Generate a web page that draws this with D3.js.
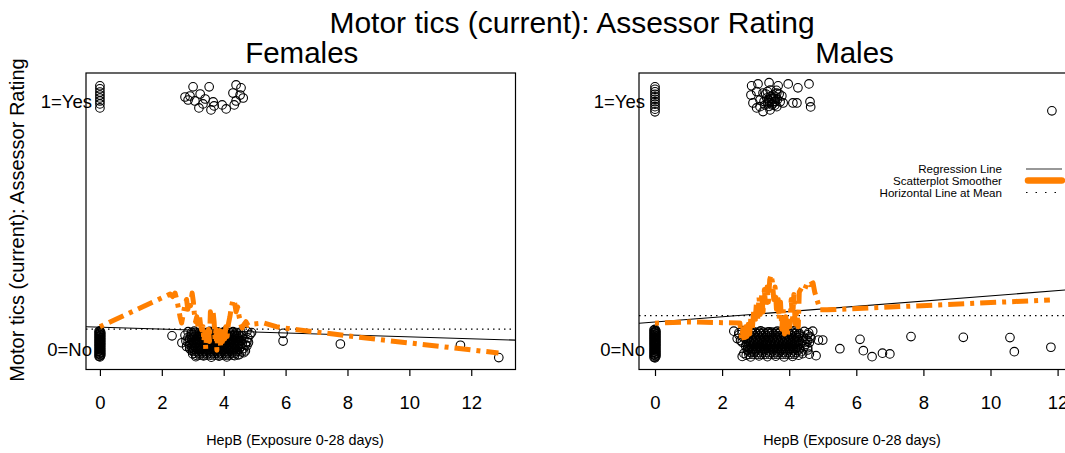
<!DOCTYPE html>
<html><head><meta charset="utf-8">
<script src="https://cdn.jsdelivr.net/npm/d3@7/dist/d3.min.js"></script>
<style>body{margin:0;background:#fff;} text{font-family:"Liberation Sans",Arial,sans-serif;}</style>
</head><body><svg id="c" width="1065" height="453"></svg>
<script>
// ---------- data ----------
const mainTitle = "Motor tics (current): Assessor Rating";
const panelTitles = ["Females", "Males"];
const xLabel = "HepB (Exposure 0-28 days)";
const yLabel = "Motor tics (current): Assessor Rating";
const xTicks = [0, 2, 4, 6, 8, 10, 12];
const yTickValues = [0, 1];
const yTickLabels = ["0=No", "1=Yes"];
const legendLabels = ["Regression Line", "Scatterplot Smoother", "Horizontal Line at Mean"];

const femalePoints = [
 // exposure 0, yes
 [0,1.063],[0,1.051],[0,1.038],[0,1.026],[0,1.014],[0,1.002],[0,0.99],[0,0.974],
 // exposure 0, no
 [0,0.073],[0,0.068],[0,0.063],[0,0.058],[0,0.053],[0,0.048],[0,0.043],[0,0.038],[0,0.033],[0,0.028],[0,0.023],
 [0,0.018],[0,0.013],[0,0.008],[0,0.003],[0,-0.002],[0,-0.007],[0,-0.012],[0,-0.017],[0,-0.022],[0,-0.027],[0,-0.032],
 [-0.03,0.0705],[0.03,0.0655],[-0.03,0.0605],[0.03,0.0555],[-0.03,0.0505],[0.03,0.0455],[-0.03,0.0405],[0.03,0.0355],
 [-0.03,0.0305],[0.03,0.0255],[-0.03,0.0205],[0.03,0.0155],[-0.03,0.0105],[0.03,0.0055],[-0.03,0.0005],[0.03,-0.0045],
 [-0.03,-0.0095],[0.03,-0.0145],[-0.03,-0.0195],[0.03,-0.0245],[-0.03,-0.0295],
 // cluster, yes
 [3.01,1.059],[3.53,1.059],[4.40,1.067],[2.91,1.022],[3.24,1.030],[3.07,1.002],[3.33,0.990],[3.20,0.974],
 [3.66,0.998],[3.59,0.966],[3.69,0.982],[3.95,0.986],[4.08,0.970],[4.34,0.986],[4.53,1.026],[4.30,1.034],
 [4.63,1.014],[4.40,1.002],[4.56,1.055],[2.75,1.018],[2.85,1.006],[3.40,1.010],
 // cluster, no (edges)
 [2.85,0.07],[3.05,0.072],[3.3,0.068],[3.55,0.071],[3.8,0.069],[4.05,0.072],[4.3,0.07],[4.55,0.068],[4.75,0.071],[4.9,0.066],
 [2.75,0.055],[2.95,0.058],[3.15,0.052],[3.4,0.056],[3.6,0.054],[3.85,0.057],[4.1,0.053],[4.35,0.056],[4.6,0.052],[4.85,0.058],
 [2.9,0.04],[4.45,0.043],[4.65,0.04],[2.65,0.025],[2.85,0.028],[4.6,0.022],[4.8,0.026],
 [2.8,0.01],[4.55,0.009],[4.75,0.013],[2.95,-0.005],[4.5,-0.001],[4.7,-0.008],
 [3.0,-0.02],[4.5,-0.023],[4.65,-0.015],[3.1,-0.031],[3.35,-0.028],[3.6,-0.033],[3.85,-0.029],[4.1,-0.032],[4.35,-0.027],
 [2.85,0.047],[4.55,0.048],[4.78,0.045],[2.78,0.032],[4.58,0.034],[4.75,0.03],[2.9,0.017],[4.5,0.018],[4.7,0.016],
 [2.9,0.002],[4.62,0.001],[4.58,-0.012],[4.45,-0.024],
 // outliers
 [2.33,0.053],[5.92,0.063],[5.92,0.032],[7.77,0.02],[11.65,0.015],[12.89,-0.035]
];
// dense core of the no-cluster: [y, x values]
const femaleCoreRows = [
 [0.066, [2.96,3.08,3.21,3.33,3.44,3.57,3.69,3.8,3.93,4.05,4.18,4.29,4.41]],
 [0.059, [3.02,3.14,3.26,3.39,3.5,3.62,3.75,3.87,3.98,4.11,4.23,4.35,4.48]],
 [0.051, [2.94,3.07,3.2,3.31,3.45,3.56,3.68,3.81,3.92,4.04,4.17,4.3,4.42]],
 [0.044, [3.01,3.13,3.27,3.38,3.51,3.63,3.74,3.86,3.99,4.1,4.24,4.36,4.47]],
 [0.036, [2.97,3.09,3.22,3.34,3.46,3.58,3.7,3.82,3.95,4.06,4.19,4.31,4.43]],
 [0.029, [3.03,3.15,3.28,3.4,3.52,3.64,3.76,3.88,4.0,4.12,4.25,4.37,4.49]],
 [0.021, [2.95,3.08,3.2,3.33,3.45,3.57,3.69,3.81,3.93,4.05,4.18,4.3,4.41]],
 [0.014, [3.02,3.14,3.26,3.39,3.51,3.63,3.75,3.87,3.99,4.11,4.24,4.35,4.46]],
 [0.006, [2.98,3.1,3.22,3.34,3.46,3.58,3.7,3.83,3.94,4.07,4.19,4.31,4.42]],
 [-0.001, [3.04,3.16,3.28,3.41,3.53,3.65,3.77,3.89,4.01,4.13,4.25,4.37]],
 [-0.009, [3.0,3.12,3.24,3.36,3.48,3.6,3.72,3.84,3.96,4.08,4.2,4.32,4.44]],
 [-0.017, [3.06,3.18,3.3,3.42,3.54,3.66,3.78,3.9,4.02,4.14,4.26,4.38]],
 [-0.025, [3.1,3.22,3.34,3.46,3.58,3.7,3.82,3.94,4.06,4.18,4.3]]
];

const malePoints = [
 [0,1.059],[0,1.049],[0,1.039],[0,1.029],[0,1.019],[0,1.009],[0,0.999],[0,0.989],[0,0.979],[0,0.969],[0,0.958],
 [0,0.079],[0,0.074],[0,0.069],[0,0.064],[0,0.059],[0,0.054],[0,0.049],[0,0.044],[0,0.039],[0,0.034],[0,0.029],[0,0.024],[0,0.019],
 [0,0.014],[0,0.009],[0,0.004],[0,-0.001],[0,-0.006],[0,-0.011],[0,-0.016],[0,-0.021],[0,-0.026],[0,-0.031],[0,-0.036],
 [-0.03,0.0765],[0.03,0.0715],[-0.03,0.0665],[0.03,0.0615],[-0.03,0.0565],[0.03,0.0515],[-0.03,0.0465],[0.03,0.0415],
 [-0.03,0.0365],[0.03,0.0315],[-0.03,0.0265],[0.03,0.0215],[-0.03,0.0165],[0.03,0.0115],[-0.03,0.0065],[0.03,0.0015],
 [-0.03,-0.0035],[0.03,-0.0085],[-0.03,-0.0135],[0.03,-0.0185],[-0.03,-0.0235],[0.03,-0.0285],[-0.03,-0.0335],
 [2.88,1.063],[3.07,1.071],[3.40,1.076],[3.67,1.063],[3.97,1.071],[4.26,1.055],[4.59,1.071],[2.86,1.026],[3.03,1.040],
 [3.22,1.034],[3.43,1.046],[3.63,1.034],[3.78,1.022],[3.13,1.006],[3.33,1.014],[3.52,1.010],[3.73,0.999],[2.92,0.994],
 [3.03,0.974],[3.22,0.959],[3.43,0.966],[3.63,0.979],[3.82,0.994],[4.11,0.994],[4.23,0.994],[4.62,0.999],[4.64,0.978],
 [3.13,0.979],[3.37,0.994],[3.52,1.026],[3.48,0.986],[3.28,0.986],[3.58,0.999],
 [3.45,1.02],[3.55,1.0],[3.38,1.005],[3.6,1.018],[3.3,1.03],[3.5,0.99],[3.65,1.008],[3.42,0.995],[3.25,1.0],[3.7,1.03],
 [3.35,1.04],[3.47,1.012],[3.57,0.985],[3.4,0.98],[3.62,1.045],
 [11.83,0.962],
 [2.35,0.072],[2.6,0.074],[2.9,0.07],[3.15,0.073],[3.4,0.069],[3.65,0.072],[3.9,0.07],[4.15,0.074],[4.45,0.071],[4.7,0.072],
 [2.5,0.057],[2.75,0.055],[4.3,0.054],[4.55,0.057],[2.45,0.042],[2.7,0.04],[4.5,0.041],[4.65,0.044],
 [2.6,0.027],[4.35,0.024],[4.6,0.026],[2.7,0.012],[4.45,0.011],[2.75,-0.003],[4.55,-0.004],
 [2.65,-0.018],[4.4,-0.019],[4.6,-0.021],[2.6,-0.03],[2.85,-0.032],[3.1,-0.028],[3.35,-0.031],[3.6,-0.029],[3.85,-0.032],[4.1,-0.03],
 [2.5,0.065],[4.3,0.063],[4.58,0.065],[2.62,0.049],[4.42,0.049],[4.62,0.05],[2.55,0.034],[4.4,0.034],[4.55,0.033],
 [4.5,0.019],[4.55,0.005],[4.35,-0.011],[2.72,-0.025],[4.28,-0.025],
 [4.87,0.036],[5.0,0.036],[4.8,-0.027],[5.51,0.001],[6.11,0.039],[6.21,-0.007],[6.47,-0.031],[6.78,-0.017],[7.0,-0.02],
 [7.63,0.05],[9.19,0.047],[10.58,0.046],[10.71,-0.011],[11.8,0.007]
];
const maleCoreRows = [
 [0.068, [2.74,2.86,2.99,3.11,3.23,3.36,3.48,3.6,3.73,3.85,3.97,4.1,4.22]],
 [0.061, [2.8,2.92,3.05,3.17,3.29,3.42,3.54,3.66,3.79,3.91,4.03,4.16,4.28]],
 [0.053, [2.72,2.85,2.97,3.1,3.22,3.34,3.47,3.59,3.71,3.84,3.96,4.08,4.21]],
 [0.046, [2.79,2.91,3.03,3.16,3.28,3.4,3.53,3.65,3.77,3.9,4.02,4.14,4.27]],
 [0.038, [2.75,2.87,3.0,3.12,3.24,3.37,3.49,3.61,3.74,3.86,3.98,4.11,4.23]],
 [0.031, [2.81,2.93,3.06,3.18,3.3,3.43,3.55,3.67,3.8,3.92,4.04,4.17,4.29]],
 [0.023, [2.73,2.86,2.98,3.11,3.23,3.35,3.48,3.6,3.72,3.85,3.97,4.09,4.22]],
 [0.016, [2.8,2.92,3.04,3.17,3.29,3.41,3.54,3.66,3.78,3.91,4.03,4.15,4.28]],
 [0.008, [2.76,2.88,3.01,3.13,3.25,3.38,3.5,3.62,3.75,3.87,3.99,4.12,4.24]],
 [0.001, [2.82,2.94,3.07,3.19,3.31,3.44,3.56,3.68,3.81,3.93,4.05,4.18,4.3]],
 [-0.007, [2.78,2.9,3.02,3.15,3.27,3.39,3.52,3.64,3.76,3.89,4.01,4.13,4.26]],
 [-0.014, [2.84,2.96,3.09,3.21,3.33,3.46,3.58,3.7,3.83,3.95,4.07,4.2]],
 [-0.022, [2.8,2.92,3.05,3.17,3.29,3.42,3.54,3.66,3.79,3.91,4.03,4.16]]
];

const femaleSmooth = [
 [0,0.09],[2.27,0.222],[2.35,0.212],[2.43,0.226],[2.5,0.19],[2.59,0.13],[2.64,0.105],[2.7,0.145],[2.75,0.18],[2.8,0.2],
 [2.84,0.16],[2.88,0.19],[2.93,0.175],[2.98,0.226],[3.02,0.19],[3.05,0.145],[3.09,0.11],[3.13,0.13],[3.17,0.09],[3.21,0.14],
 [3.25,0.1],[3.29,0.077],[3.33,0.09],[3.36,0.03],[3.39,0.07],[3.42,0.0],[3.45,0.06],[3.48,0.02],[3.51,0.08],[3.54,0.03],
 [3.57,0.15],[3.61,0.12],[3.65,0.158],[3.69,0.11],[3.72,0.04],[3.75,0.08],[3.78,-0.005],[3.81,0.06],[3.84,0.02],[3.87,0.075],
 [3.9,0.01],[3.93,0.065],[3.96,0.03],[3.99,0.085],[4.03,0.04],[4.07,0.09],[4.11,0.05],[4.15,0.1],[4.2,0.13],[4.25,0.17],
 [4.3,0.2],[4.35,0.19],[4.4,0.15],[4.45,0.17],[4.5,0.13],[4.55,0.1],[4.6,0.085],[4.66,0.1],[4.72,0.11],[4.79,0.095],
 [4.9,0.1],[5.3,0.105],[5.7,0.09],[6.15,0.081],[9.16,0.036],[12.88,-0.016]
];
const maleSmooth = [
 [0,0.104],[1.04,0.109],[2.53,0.105],[2.58,0.04],[2.62,0.08],[2.66,0.03],[2.7,0.09],[2.74,0.05],[2.78,0.1],[2.82,0.06],
 [2.86,0.13],[2.9,0.08],[2.94,0.15],[2.98,0.1],[3.02,0.18],[3.06,0.12],[3.1,0.21],[3.14,0.14],[3.18,0.22],[3.22,0.15],
 [3.26,0.24],[3.3,0.17],[3.34,0.25],[3.38,0.19],[3.42,0.28],[3.46,0.3],[3.5,0.27],[3.54,0.2],[3.58,0.25],[3.62,0.16],
 [3.66,0.22],[3.7,0.12],[3.74,0.19],[3.78,0.08],[3.82,0.16],[3.86,0.06],[3.9,0.13],[3.94,0.05],[3.98,0.11],[4.02,0.09],
 [4.06,0.2],[4.1,0.12],[4.14,0.22],[4.18,0.1],[4.22,0.15],[4.27,0.09],[4.3,0.23],[4.38,0.25],[4.46,0.24],[4.55,0.27],
 [4.62,0.26],[4.71,0.267],[4.76,0.23],[4.83,0.198],[4.92,0.158],[5.13,0.158],[11.77,0.198]
];
const femaleRegression = [0.088, -0.0039]; // intercept, slope
const maleRegression = [0.109, 0.01055];
const femaleMean = 0.08;
const maleMean = 0.135;

// ---------- drawing ----------
const svg = d3.select("#c");
svg.append("rect").attr("width",1065).attr("height",453).attr("fill","#fff");
const orange = "#ff7f00";
const expandRows = rows => rows.flatMap(([yv, xs]) => xs.map(xv => [xv, yv]));

const panels = [
 {title: panelTitles[0], pts: femalePoints.concat(expandRows(femaleCoreRows)), smooth: femaleSmooth,
  reg: femaleRegression, mean: femaleMean, xd: [-0.45, 13.43], xr: [86, 515.5], legend: false, xlabX: 295},
 {title: panelTitles[1], pts: malePoints.concat(expandRows(maleCoreRows)), smooth: maleSmooth,
  reg: maleRegression, mean: maleMean, xd: [-0.477, 12.31], xr: [639, 1068], legend: true, xlabX: 852}
];
const y = d3.scaleLinear().domain([-0.083, 1.115]).range([369.5, 73]);

panels.forEach((p, i) => {
  const x = d3.scaleLinear().domain(p.xd).range(p.xr);
  const g = svg.append("g");
  const clipId = "clip" + i;
  svg.append("clipPath").attr("id", clipId).append("rect")
    .attr("x", p.xr[0]).attr("y", 73).attr("width", p.xr[1]-p.xr[0]).attr("height", 369.5-73);
  const plot = g.append("g").attr("clip-path", `url(#${clipId})`);

  plot.selectAll("circle").data(p.pts).join("circle")
    .attr("cx", d => x(d[0])).attr("cy", d => y(d[1])).attr("r", 4.3)
    .attr("fill", "none").attr("stroke", "#000").attr("stroke-width", 1.1);

  // mean line
  plot.append("line").attr("x1", p.xr[0]).attr("x2", p.xr[1])
    .attr("y1", y(p.mean)).attr("y2", y(p.mean))
    .attr("stroke", "#000").attr("stroke-width", 1.2).attr("stroke-dasharray", "1.5,4");
  // regression
  plot.append("line")
    .attr("x1", x(p.xd[0])).attr("y1", y(p.reg[0] + p.reg[1]*p.xd[0]))
    .attr("x2", x(p.xd[1])).attr("y2", y(p.reg[0] + p.reg[1]*p.xd[1]))
    .attr("stroke", "#000").attr("stroke-width", 1.1);
  // smoother
  plot.append("path").datum(p.smooth)
    .attr("d", d3.line().x(d => x(d[0])).y(d => y(d[1])))
    .attr("fill", "none").attr("stroke", orange).attr("stroke-width", 5)
    .attr("stroke-dasharray", "4,6,16,6").attr("stroke-linejoin", "round");

  // frame
  g.append("rect").attr("x", p.xr[0]).attr("y", 73).attr("width", p.xr[1]-p.xr[0]).attr("height", 369.5-73)
    .attr("fill", "none").attr("stroke", "#000").attr("stroke-width", 1.2);

  // x axis
  const ax = g.append("g").attr("transform", "translate(0,369.5)")
    .call(d3.axisBottom(x).tickValues(xTicks).tickFormat(d3.format("d")).tickSize(6.5).tickPadding(20));
  ax.select(".domain").remove();
  ax.selectAll("line").attr("stroke", "#000").attr("stroke-width", 1.2);
  ax.selectAll("text").attr("font-size", 18.5).attr("fill", "#000")
    .attr("font-family", "Liberation Sans, Arial, sans-serif");

  // y labels
  g.selectAll(".yl").data(yTickValues).join("text")
    .attr("x", p.xr[0] + 6).attr("y", d => y(d)).attr("dy", "0.36em")
    .attr("text-anchor", "end").attr("font-size", 18.5).text((d, k) => yTickLabels[k]);

  // panel title
  g.append("text").attr("x", (p.xr[0]+p.xr[1])/2 + 1).attr("y", 63).attr("text-anchor", "middle")
    .attr("font-size", 29.5).text(p.title);
  // x label
  g.append("text").attr("x", p.xlabX).attr("y", 445).attr("text-anchor", "middle")
    .attr("font-size", 14.4).text(xLabel);

  if (p.legend) {
    const rows = [169, 180.5, 192.5];
    const lg = g.append("g");
    lg.selectAll("text").data(legendLabels).join("text")
      .attr("x", 1002).attr("y", (d, k) => rows[k]).attr("dy", "0.36em")
      .attr("text-anchor", "end").attr("font-size", 11.6).text(d => d);
    lg.append("line").attr("x1", 1026).attr("x2", 1062).attr("y1", rows[0]).attr("y2", rows[0])
      .attr("stroke", "#333").attr("stroke-width", 1.2);
    lg.append("line").attr("x1", 1028).attr("x2", 1062).attr("y1", rows[1]).attr("y2", rows[1])
      .attr("stroke", orange).attr("stroke-width", 6.5).attr("stroke-linecap", "round");
    lg.append("line").attr("x1", 1026).attr("x2", 1064).attr("y1", rows[2]).attr("y2", rows[2])
      .attr("stroke", "#000").attr("stroke-width", 1.2).attr("stroke-dasharray", "1.5,8");
  }
});

svg.append("text").attr("x", 572).attr("y", 33).attr("text-anchor", "middle").attr("font-size", 30).text(mainTitle);
svg.append("text").attr("transform", "translate(24,220) rotate(-90)").attr("text-anchor", "middle")
  .attr("font-size", 20).text(yLabel);
</script></body></html>
